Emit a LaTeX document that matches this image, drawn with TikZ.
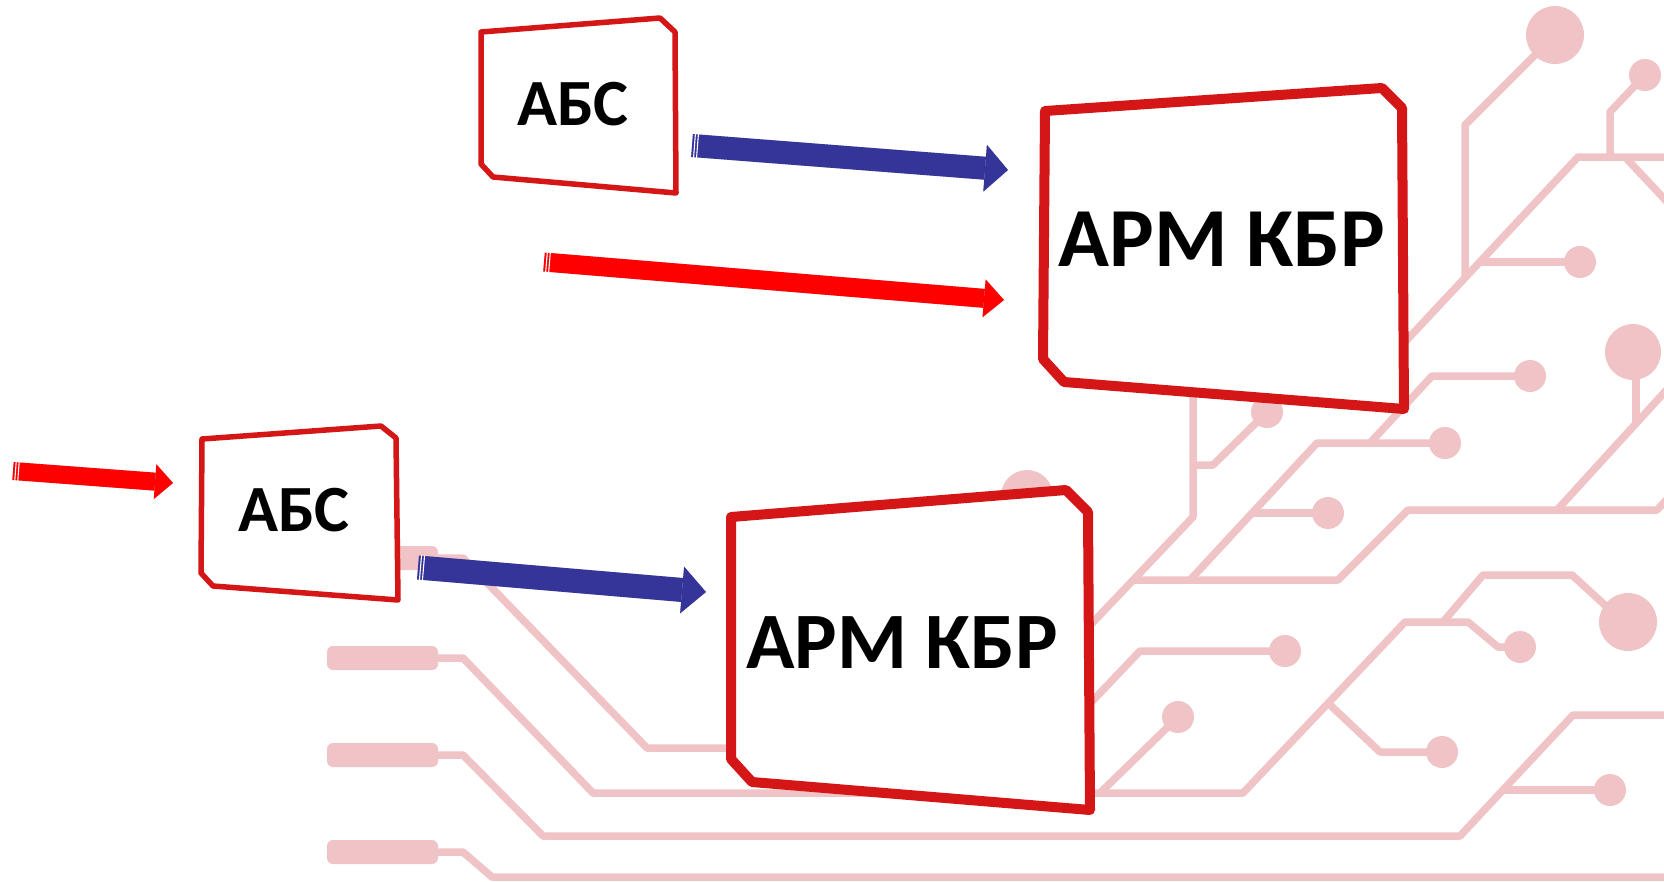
\documentclass[tikz,border=0pt]{standalone}
\usepackage{fontspec}
\setmainfont{Carlito}
\usetikzlibrary{arrows.meta,calc}
\definecolor{circ}{RGB}{240,196,198}
\definecolor{boxred}{RGB}{212,22,22}
\definecolor{arrblue}{RGB}{53,52,153}
\definecolor{arrred}{RGB}{255,0,0}
\begin{document}
\begin{tikzpicture}[x=1bp,y=-1bp,
  trace/.style={circ, line width=7.5bp, line join=round},
  padbox/.style={fill=circ, rounded corners=6bp},
  smallbox/.style={draw=boxred, line width=5.5bp, fill=white, line join=round},
  bigbox/.style={draw=boxred, line width=10bp, fill=white, line join=round},
  lbl/.style={font=\bfseries, text=black, inner sep=0pt, anchor=base},
  blockarrow/.style n args={4}{#1, line width=#2, -{Triangle[length=#3,width=#4,line width=0pt]}},
  arrshadow/.style={black, opacity=0.22, shift={(1.5,3)}},
  stripe/.style={white, line width=1.1bp}
]
\useasboundingbox (0,0) rectangle (1664,881);
\fill[white] (0,0) rectangle (1664,881);

% ---------- circuit background ----------
\draw[trace] (1555,35) -- (1465,125) -- (1465,278);
\fill[circ] (1555,35) circle[radius=29bp];
\draw[trace] (1645,75) -- (1610,112) -- (1610,157);
\fill[circ] (1645,75) circle[radius=16bp];
\draw[trace] (1670,157) -- (1578,157) -- (1360,390);
\draw[trace] (1480,262) -- (1580,262);
\fill[circ] (1580,262) circle[radius=16bp];
\draw[trace] (1625,157) -- (1670,205);

\draw[trace] (1193,300) -- (1193,517) -- (1060,657);
\draw[trace] (1193,465) -- (1213,465) -- (1267,412);
\fill[circ] (1267,412) circle[radius=16bp];
\draw[trace] (1133,580) -- (1338,580) -- (1408,510) -- (1657,510) -- (1670,496);
\draw[trace] (1190,580) -- (1317,443) -- (1445,443);
\fill[circ] (1445,443) circle[radius=16bp];
\draw[trace] (1252,513) -- (1328,513);
\fill[circ] (1328,513) circle[radius=16bp];
\draw[trace] (1672,384) -- (1557,510);
\draw[trace] (1636,352) -- (1636,423);
\fill[circ] (1633,352) circle[radius=28bp];
\draw[trace] (1370,443) -- (1432,376) -- (1530,376);
\fill[circ] (1530,376) circle[radius=16bp];
\draw[trace] (1060,735) -- (1140,651) -- (1285,651);
\fill[circ] (1285,651) circle[radius=16bp];
\draw[trace] (1178,717) -- (1100,793);
\fill[circ] (1178,717) circle[radius=16bp];

\fill[padbox] (327,546) rectangle (438,570);
\draw[trace] (430,558) -- (463,558) -- (647,748) -- (950,748);
\fill[padbox] (327,646) rectangle (438,670);
\draw[trace] (430,658) -- (463,658) -- (593,793) -- (1243,793) -- (1405,622) -- (1468,622) -- (1498,647) -- (1520,647);
\fill[circ] (1520,647) circle[radius=16bp];
\draw[trace] (1443,622) -- (1483,575) -- (1572,575) -- (1607,607) -- (1628,622);
\fill[circ] (1628,622) circle[radius=29bp];
\draw[trace] (1328,703) -- (1380,752) -- (1442,752);
\fill[circ] (1442,752) circle[radius=16bp];
\fill[padbox] (327,743) rectangle (438,767);
\draw[trace] (430,755) -- (463,755) -- (543,836) -- (1460,836) -- (1573,715) -- (1670,715);
\draw[trace] (1503,790) -- (1610,790);
\fill[circ] (1610,790) circle[radius=16bp];
\fill[padbox] (327,840) rectangle (438,864);
\draw[trace] (430,852) -- (463,852) -- (492,877) -- (1670,877);
\draw[trace] (1027,496) -- (1027,560);
\fill[circ] (1027,496) circle[radius=26bp];

% ---------- boxes ----------
\draw[smallbox] (481,32) -- (660,18) -- (675,32) -- (676,193) -- (493,177) -- (481,164) -- cycle;
\draw[smallbox] (202,439) -- (381,426) -- (396,438) -- (398,600) -- (213,586) -- (201,573) -- cycle;
\draw[bigbox] (1045,111) -- (1382,88) -- (1402,108) -- (1404,409) -- (1064,382) -- (1043,359) -- cycle;
\draw[bigbox] (731,517) -- (1066,490) -- (1088,512) -- (1090,810) -- (752,782) -- (731,759) -- cycle;

\node[lbl, font=\bfseries\fontsize{66bp}{70bp}\selectfont] (abs1) at (573,125) {АБС};
\node[lbl, font=\bfseries\fontsize{66bp}{70bp}\selectfont] (abs2) at (294,531) {АБС};
\node[lbl, font=\bfseries\fontsize{84bp}{90bp}\selectfont] (arm1) at (1222,266) {АРМ КБР};
\node[lbl, font=\bfseries\fontsize{80bp}{86bp}\selectfont] (arm2) at (902,668) {АРМ КБР};

% ---------- arrows ----------
\coordinate (b1s) at (692,145.5);  \coordinate (b1e) at (1008,170);
\coordinate (r1s) at (544,262);    \coordinate (r1e) at (1004,300);
\coordinate (r2s) at (13,471);     \coordinate (r2e) at (173,483);
\coordinate (b2s) at (418,567.5);  \coordinate (b2e) at (706,592);

\draw[arrshadow, blockarrow={black}{23bp}{23bp}{47bp}] (b1s) -- (b1e);
\draw[arrshadow, blockarrow={black}{19bp}{20bp}{38bp}] (r1s) -- (r1e);
\draw[arrshadow, blockarrow={black}{18bp}{18bp}{35bp}] (r2s) -- (r2e);
\draw[arrshadow, blockarrow={black}{24bp}{24bp}{47bp}] (b2s) -- (b2e);

\draw[blockarrow={arrblue}{23bp}{23bp}{47bp}] (b1s) -- (b1e);
\draw[blockarrow={arrred}{19bp}{20bp}{38bp}] (r1s) -- (r1e);
\draw[blockarrow={arrred}{18bp}{18bp}{35bp}] (r2s) -- (r2e);
\draw[blockarrow={arrblue}{24bp}{24bp}{47bp}] (b2s) -- (b2e);

\foreach \s/\e/\h in {b1s/b1e/12, r1s/r1e/10, r2s/r2e/9.5, b2s/b2e/12.5}{
  \foreach \d in {2.5bp,5.5bp}{
    \draw[stripe] ($(\s)!\d!(\e)!\h bp!90:(\e)$) -- ($(\s)!\d!(\e)!\h bp!-90:(\e)$);
  }
}
\end{tikzpicture}
\end{document}
